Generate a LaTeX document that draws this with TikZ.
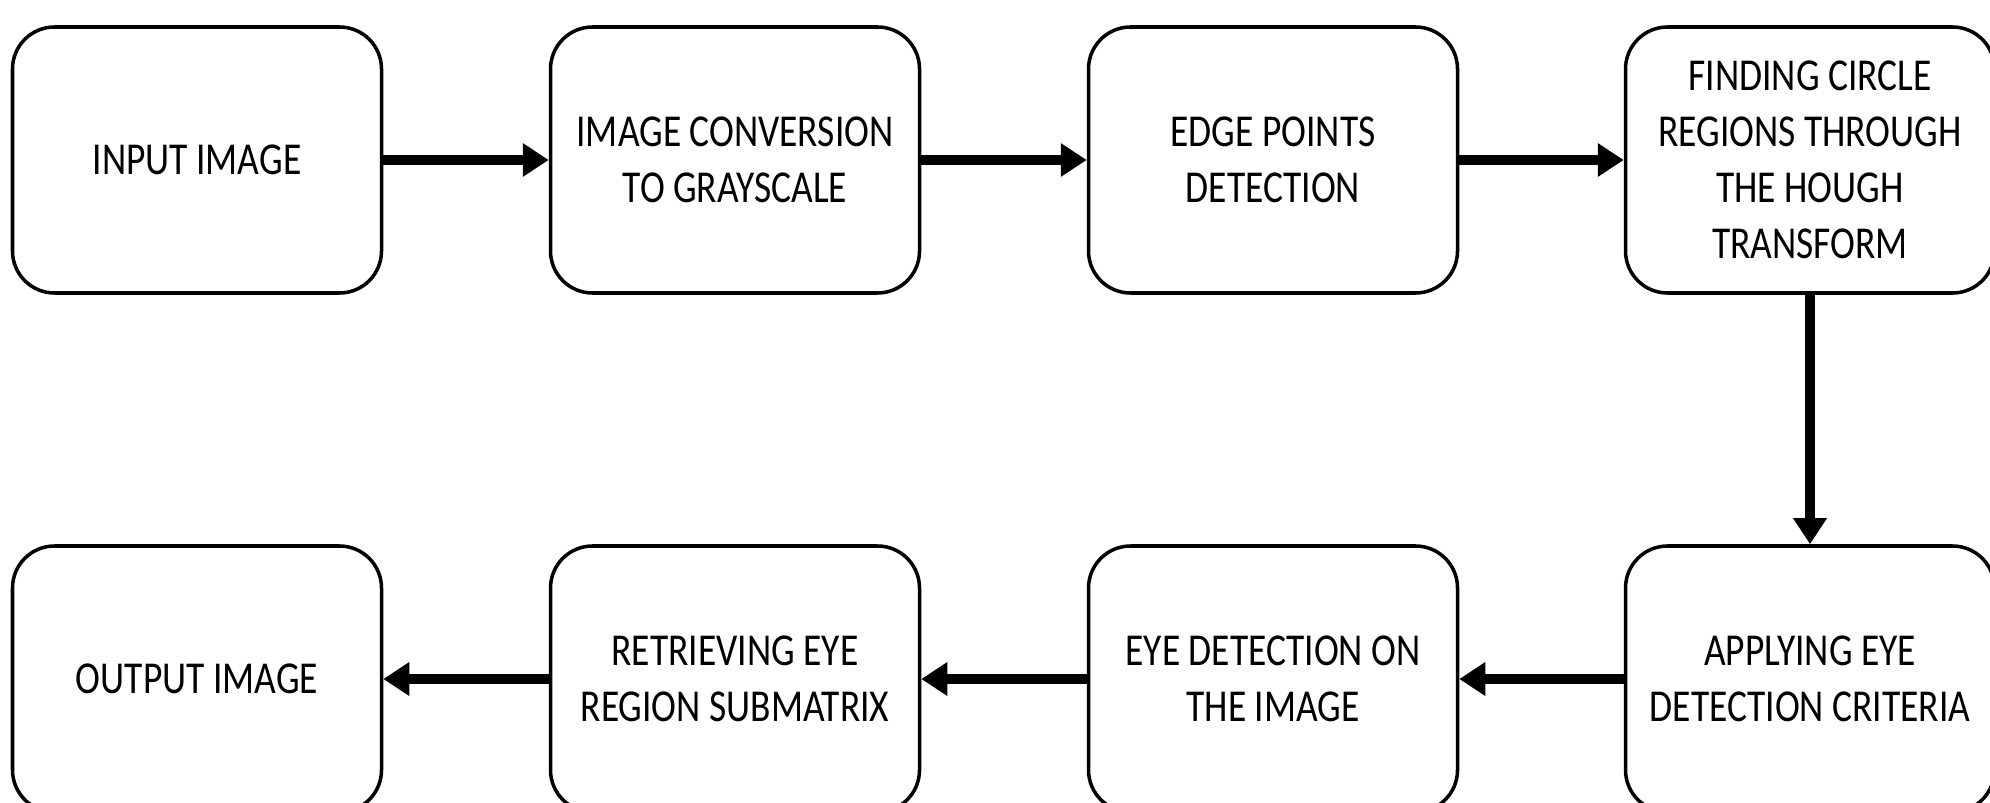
\documentclass[tikz,border=0pt]{standalone}
\usepackage{fontspec}
\setmainfont[FakeStretch=0.82]{Carlito}
\usepackage{tikz}
\usetikzlibrary{arrows.meta}

\tikzset{
	blok/.style={draw,line width=1pt,rounded corners=0.42cm,minimum width=3.69cm,minimum height=2.66cm,inner sep=0pt,align=center,font=\fontsize{13}{15.9}\selectfont},
	pijl/.style={line width=2.6pt,-{Triangle[length=2.6mm,width=3.2mm]}}
}

\begin{document}
\begin{tikzpicture}
			\useasboundingbox (0,0) rectangle (19.9,8.02);
			% top row
			\node[blok] (input) at (1.97,6.42) {INPUT IMAGE};
			\node[blok] (gray) at (7.35,6.42) {IMAGE CONVERSION\\TO GRAYSCALE};
			\node[blok] (edge) at (12.73,6.42) {EDGE POINTS\\DETECTION};
			\node[blok] (hough) at (18.10,6.42) {FINDING CIRCLE\\REGIONS THROUGH\\THE HOUGH\\TRANSFORM};
			% bottom row
			\node[blok] (criteria) at (18.10,1.23) {APPLYING EYE\\DETECTION CRITERIA};
			\node[blok] (detect) at (12.73,1.23) {EYE DETECTION ON\\THE IMAGE};
			\node[blok] (submat) at (7.35,1.23) {RETRIEVING EYE\\REGION SUBMATRIX};
			\node[blok] (output) at (1.97,1.23) {OUTPUT IMAGE};

			\draw[pijl] (input) -- (gray);
			\draw[pijl] (gray) -- (edge);
			\draw[pijl] (edge) -- (hough);
			\draw[pijl] (hough) -- (criteria);
			\draw[pijl] (criteria) -- (detect);
			\draw[pijl] (detect) -- (submat);
			\draw[pijl] (submat) -- (output);
		\end{tikzpicture}
\end{document}
